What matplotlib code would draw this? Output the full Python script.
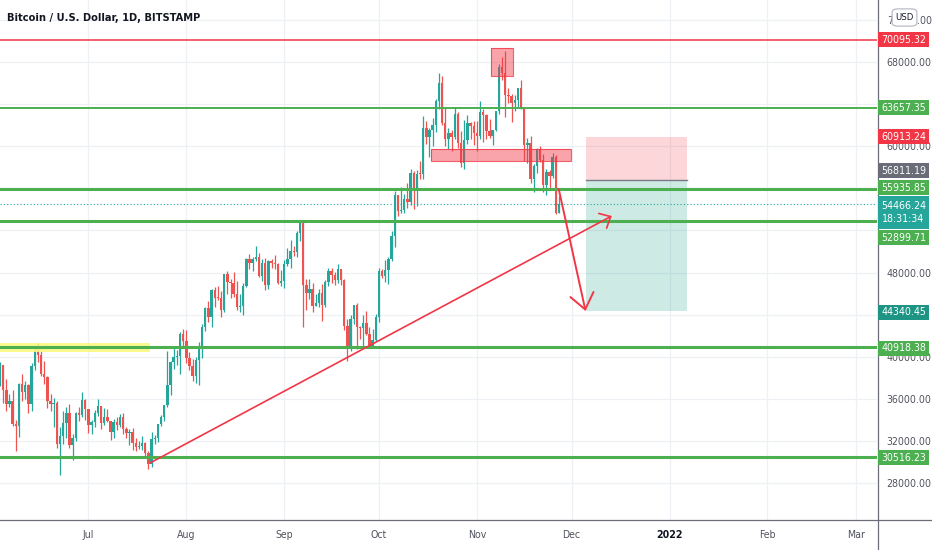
import numpy as np
import pandas as pd
import matplotlib
matplotlib.use('agg')
import matplotlib.pyplot as plt
import matplotlib.dates as mdates
from matplotlib import font_manager
from matplotlib.patches import Rectangle, FancyBboxPatch

# pick the narrowest installed face, TradingView labels are condensed
installed = {(f.name, f.stretch) for f in font_manager.fontManager.ttflist}
if any(n == 'Liberation Sans Narrow' for n, s in installed):
    FONT, STRETCH, FS = 'Liberation Sans Narrow', 'normal', 8.3
elif ('DejaVu Sans', 'condensed') in installed:
    FONT, STRETCH, FS = 'DejaVu Sans', 'condensed', 7.6
else:
    FONT, STRETCH, FS = 'Roboto', 'normal', 7.6
plt.rcParams['font.family'] = [FONT, 'DejaVu Sans']
plt.rcParams['font.stretch'] = STRETCH

TITLE = 'Bitcoin / U.S. Dollar, 1D, BITSTAMP'
FIRST_DAY = '2021-06-03'

# daily candles, Jun 3 .. Nov 27 2021
opens = [
    # Jun
    37570, 39190, 36860, 35520, 35800, 33560, 33400, 37380, 36690, 37330, 35550, 39100, 40520, 40150,
    38350, 38090, 35820, 35480, 35600, 31680, 32500, 33680, 34660, 31600, 32240, 34680, 34480, 35850,
    # Jul
    35040, 33540, 33820, 34680, 35290, 33690, 34230, 33860, 32880, 33810, 33520, 34260, 33090, 32730,
    32820, 31780, 31400, 31530, 31780, 30820, 29800, 32140, 32290, 33580, 34270, 35400, 37280, 39460,
    40000, 40030, 42200,
    # Aug
    41460, 39850, 39140, 38190, 39720, 40880, 42830, 44610, 43810, 46300, 45600, 45570, 44420, 47830,
    47100, 47050, 45950, 44700, 44800, 46750, 49300, 48860, 49300, 49520, 47700, 48950, 46850, 49070,
    48900, 48800, 46990,
    # Sep
    47150, 48850, 49300, 50000, 49950, 51800, 52700, 46850, 46050, 46400, 44850, 45150, 46050, 44950,
    47100, 48150, 47750, 47300, 48300, 47250, 42950, 40700, 43550, 44900, 42800, 42700, 43200, 42200,
    41050, 41550,
    # Oct
    43800, 48150, 47650, 48200, 49250, 51500, 55350, 53800, 53950, 54950, 54700, 57500, 56000, 57400,
    57350, 61700, 60900, 61550, 62050, 64300, 66000, 62200, 60700, 61300, 60850, 63100, 60350, 58450,
    60600, 62250, 61900,
    # Nov
    61300, 61000, 63250, 62950, 61450, 61000, 61500, 63300, 67500, 66950, 64900, 64800, 64150, 64400,
    65500, 63600, 60100, 60350, 56900, 58100, 59700, 58700, 56300, 57550, 57150, 58950, 53700,
]
highs = [
    39480, 39240, 37900, 36430, 36790, 34000, 37530, 38400, 37690, 37440, 39380, 41000, 41330, 40500,
    39560, 38200, 36450, 36100, 35750, 33300, 34800, 35250, 35500, 32700, 34700, 35260, 36600, 36000,
    35050, 33950, 34940, 35950, 35290, 35080, 35030, 33920, 34100, 34250, 34600, 34650, 33340, 33100,
    33200, 32250, 31950, 32440, 31900, 31040, 32840, 32600, 33600, 34480, 35400, 40550, 39550, 40900,
    40630, 42300, 42600,
    42580, 40450, 39780, 39950, 41350, 43100, 44700, 45300, 46450, 46670, 46750, 46200, 47850, 48150,
    47400, 48050, 47150, 46000, 47050, 49350, 49800, 49500, 50500, 49850, 49250, 49350, 49150, 49300,
    49650, 48900, 48200,
    49150, 50350, 51050, 50550, 51900, 52800, 52900, 47350, 47400, 47050, 45950, 46400, 46900, 47250,
    48450, 48450, 48050, 48800, 48350, 47350, 43600, 44000, 44950, 45150, 42950, 43950, 44350, 42800,
    42600, 44100,
    48450, 48350, 49200, 49500, 51900, 55750, 55350, 56100, 55450, 56550, 57800, 57650, 57750, 58550,
    62900, 62350, 61700, 62650, 64450, 66999, 66650, 63700, 61750, 61500, 63700, 63250, 61450, 62450,
    62950, 62300, 62400,
    62400, 64250, 63500, 63100, 62600, 61550, 63300, 67800, 68500, 69000, 65550, 65000, 64900, 65500,
    66300, 63600, 60750, 60950, 58350, 59850, 60000, 59300, 57850, 57750, 59400, 59150, 55300,
]
lows = [
    37170, 35600, 34800, 35260, 33400, 31000, 32400, 35800, 35950, 34650, 34800, 38750, 39500, 38120,
    37400, 35150, 34830, 33340, 31300, 28800, 31700, 32300, 31300, 30150, 32000, 33900, 34230, 34000,
    32750, 32700, 33330, 34400, 33150, 33540, 33780, 32100, 32270, 33000, 33320, 32700, 32230, 31600,
    31150, 31050, 31200, 31100, 30400, 29300, 29500, 31720, 31900, 33400, 33880, 35250, 36400, 38800,
    39250, 38340, 41050,
    39440, 38700, 37650, 37510, 37350, 39900, 42450, 43300, 42850, 44700, 45400, 43800, 44250, 45950,
    45550, 45650, 44400, 44250, 43950, 46650, 48300, 48100, 49050, 47600, 47150, 46350, 46400, 48400,
    48300, 46900, 46700,
    46550, 48650, 48400, 49550, 49500, 50950, 42800, 44450, 45500, 44200, 44800, 44750, 43400, 44700,
    46700, 47050, 46800, 47050, 46850, 42500, 39600, 40550, 43100, 40750, 41700, 40800, 42100, 40900,
    40800, 41450,
    43300, 47450, 47100, 46950, 49050, 50400, 53400, 53650, 53700, 54100, 54450, 54000, 54300, 56850,
    56850, 60200, 58950, 60000, 61350, 63500, 62000, 60000, 59700, 59550, 60700, 59850, 58000, 57850,
    60200, 60700, 60100,
    59550, 60700, 60400, 60700, 60750, 60100, 61400, 63100, 66300, 62800, 64150, 62300, 63350, 63600,
    63500, 58600, 58400, 56500, 55650, 57450, 58500, 55650, 55400, 55850, 57000, 53600, 53650,
]
closes = [
    39190, 36860, 35520, 35800, 33560, 33400, 37380, 36690, 37330, 35550, 39100, 40520, 40150, 38350,
    38090, 35820, 35480, 35600, 31680, 32500, 33680, 34660, 31600, 32240, 34680, 34480, 35850, 35040,
    33540, 33820, 34680, 35290, 33690, 34230, 33860, 32880, 33810, 33520, 34260, 33090, 32730, 32820,
    31780, 31400, 31530, 31780, 30820, 29800, 32140, 32290, 33580, 34270, 35400, 37280, 39460, 40000,
    40030, 42200, 41460,
    39850, 39140, 38190, 39720, 40880, 42830, 44610, 43810, 46300, 45600, 45570, 44420, 47830, 47100,
    47050, 45950, 44700, 44800, 46750, 49300, 48860, 49300, 49520, 47700, 48950, 46850, 49070, 48900,
    48800, 46990, 47150,
    48850, 49300, 50000, 49950, 51800, 52700, 46850, 46050, 46400, 44850, 45150, 46050, 44950, 47100,
    48150, 47750, 47300, 48300, 47250, 42950, 40700, 43550, 44900, 42800, 42700, 43200, 42200, 41050,
    41550, 43800,
    48150, 47650, 48200, 49250, 51500, 55350, 53800, 53950, 54950, 54700, 57500, 56000, 57400, 57350,
    61700, 60900, 61550, 62050, 64300, 66000, 62200, 60700, 61300, 60850, 63100, 60350, 58450, 60600,
    62250, 61900, 61300,
    61000, 63250, 62950, 61450, 61000, 61500, 63300, 67500, 66950, 64900, 64800, 64150, 64400, 65500,
    63600, 60100, 60350, 56900, 58100, 59700, 58700, 56300, 57550, 57150, 58950, 53700, 54466.24,
]

# horizontal levels drawn on the chart
level_prices = [70095.32, 63657.35, 55935.85, 52899.71, 40918.38, 30516.23]
level_colors = ['#f23645', '#4caf50', '#4caf50', '#4caf50', '#4caf50', '#4caf50']
level_widths = [1.1, 1.4, 2.2, 2.2, 2.2, 2.2]

# zones: (start, end, low, high)
yellow_zone = ('2021-05-20', '2021-07-20 12:00', 40450, 41300)
top_box = ('2021-11-05 10:00', '2021-11-12 08:00', 66670, 69330)
mid_box = ('2021-10-17 10:00', '2021-11-30 16:00', 58600, 59735)

# short position tool
pos_start, pos_end = '2021-12-05 10:00', '2022-01-06 10:00'
pos_stop, pos_entry, pos_target = 60913.24, 56811.19, 44340.45

trend_line = [('2021-07-20 12:00', 29900), ('2021-12-13 17:00', 53370)]
down_arrow = [('2021-11-26 22:00', 55935.85), ('2021-12-05 10:00', 44340.45)]

last_price = 54466.24
countdown = '18:31:34'

# right scale tags
tag_prices = [70095.32, 63657.35, 60913.24, 56811.19, 55935.85, 52899.71, 44340.45, 40918.38, 30516.23]
tag_colors = ['#f23645', '#4caf50', '#f23645', '#6a6d78', '#4caf50', '#4caf50', '#1e9484', '#4caf50', '#4caf50']
tag_shift = [0, 0, 0, -9, -1, 17, 1, 1, 1]   # pixels, to keep tags apart

price_ticks = [28000, 32000, 36000, 40000, 44000, 48000, 52000, 56000, 60000, 64000, 68000, 72000]
hidden_ticks = [44000, 52000, 56000, 64000]   # sit fully under a tag
month_ticks = ['2021-07-01', '2021-08-01', '2021-09-01', '2021-10-01', '2021-11-01',
               '2021-12-01', '2022-01-01', '2022-02-01', '2022-03-01']
month_labels = ['Jul', 'Aug', 'Sep', 'Oct', 'Nov', 'Dec', '2022', 'Feb', 'Mar']

UP = '#26a69a'
DOWN = '#ef5350'
RED = '#f23645'
TEXT = '#131722'
W, H = 932, 550

fig = plt.figure(figsize=(W / 100, H / 100), dpi=100)
ax = fig.add_axes([0, 30 / H, 877 / W, 520 / H])


def d(s):
    return mdates.date2num(pd.Timestamp(s))


dates = pd.date_range(FIRST_DAY, periods=len(closes), freq='D')
x = mdates.date2num(dates)
o = np.array(opens, float)
h = np.array(highs, float)
l = np.array(lows, float)
c = np.array(closes, float)
col = np.where(c >= o, UP, DOWN)

ax.vlines(x, l, h, colors=col, lw=0.9, zorder=3)
ax.bar(x, np.maximum(np.abs(c - o), 80), bottom=np.minimum(o, c), width=0.76,
       color=col, linewidth=0, zorder=3)

ax.set_xlim(d('2021-07-01') - 28.0, d('2021-07-01') + 249.7)
ax.set_ylim(24485, 73891)

# grid + axes
ax.set_xticks([d(m) for m in month_ticks])
ax.set_xticklabels(month_labels)
ax.set_yticks(price_ticks)
ax.set_yticklabels(['' if p in hidden_ticks else f'{p:.2f}' for p in price_ticks])
ax.yaxis.tick_right()
ax.tick_params(axis='both', length=0, labelsize=FS, labelcolor='#50535e')
ax.tick_params(axis='x', pad=7)
ax.tick_params(axis='y', pad=7)
for t in ax.get_xticklabels():
    if t.get_text() == '2022':
        t.set_fontweight('bold')
        t.set_color(TEXT)
ax.grid(True, color='#eef0f5', lw=0.9, zorder=0)
for s in ax.spines.values():
    s.set_visible(False)

# yellow zone
x0, x1, y0, y1 = yellow_zone
ax.add_patch(Rectangle((d(x0), y0), d(x1) - d(x0), y1 - y0, fc='#f8f87a', alpha=0.85, ec='none', zorder=4))

# levels
for p, cl, lw in zip(level_prices, level_colors, level_widths):
    ax.axhline(p, color=cl, lw=lw, zorder=5)

# current price dotted line
ax.axhline(last_price, color=UP, lw=0.8, ls=(0, (1, 2)), zorder=4)

# red boxes
for x0, x1, y0, y1 in [top_box, mid_box]:
    ax.add_patch(Rectangle((d(x0), y0), d(x1) - d(x0), y1 - y0, fc=RED, alpha=0.45, ec='none', zorder=6))
    ax.add_patch(Rectangle((d(x0), y0), d(x1) - d(x0), y1 - y0, fc='none', ec=RED, lw=0.8, alpha=0.8, zorder=6))

# position tool
px0, px1 = d(pos_start), d(pos_end)
ax.add_patch(Rectangle((px0, pos_entry), px1 - px0, pos_stop - pos_entry, fc=RED, alpha=0.2, ec='none', zorder=2))
ax.add_patch(Rectangle((px0, pos_target), px1 - px0, pos_entry - pos_target, fc='#089981', alpha=0.2, ec='none', zorder=2))
ax.plot([px0, px1], [pos_entry, pos_entry], color='#787b86', lw=1.0, zorder=2)

# arrows
(a0, b0), (a1, b1) = trend_line
ax.annotate('', xy=(d(a1), b1), xytext=(d(a0), b0),
            arrowprops=dict(arrowstyle='->,head_length=0.65,head_width=0.6', color=RED, lw=1.2,
                            shrinkA=0, shrinkB=0), zorder=7)
(a0, b0), (a1, b1) = down_arrow
ax.annotate('', xy=(d(a1), b1), xytext=(d(a0), b0),
            arrowprops=dict(arrowstyle='->,head_length=1.1,head_width=0.85', color=RED, lw=1.4,
                            shrinkA=0, shrinkB=0), zorder=7)


# price tags on the right scale
def tag(ypix, text, color, height=15):
    fig.add_artist(Rectangle((878 / W, (ypix - height / 2) / H), 51 / W, height / H,
                             transform=fig.transFigure, fc=color, ec='none', zorder=10))
    fig.text(903.5 / W, ypix / H, text, color='white', fontsize=FS, ha='center', va='center',
             linespacing=1.3, zorder=11)


for p, cl, sh in zip(tag_prices, tag_colors, tag_shift):
    ypix = ax.transData.transform((0, p))[1] - sh
    tag(ypix, f'{p:.2f}', cl)

ypix = ax.transData.transform((0, last_price))[1] - 8
tag(ypix, f'{last_price:.2f}\n{countdown}', UP, height=33)

# USD badge
fig.add_artist(FancyBboxPatch((894 / W, (H - 25) / H), 21 / W, 15 / H,
                              boxstyle='round,pad=0.002,rounding_size=0.006',
                              transform=fig.transFigure, fc='white', ec='#b2b5be', lw=0.8, zorder=12))
fig.text(904.5 / W, (H - 17.5) / H, 'USD', fontsize=FS - 0.8, color=TEXT, ha='center', va='center', zorder=13)

# frame lines
fig.add_artist(plt.Line2D([0, 1], [30 / H, 30 / H], transform=fig.transFigure, color='#6b6e78', lw=0.9))
fig.add_artist(plt.Line2D([877.5 / W, 877.5 / W], [0, 1], transform=fig.transFigure, color='#6b6e78', lw=0.9))

fig.text(7 / W, (H - 18) / H, TITLE, fontsize=FS + 0.3, fontweight='semibold', color=TEXT,
         ha='left', va='center')

fig.savefig('out.png', dpi=100, facecolor='white')
